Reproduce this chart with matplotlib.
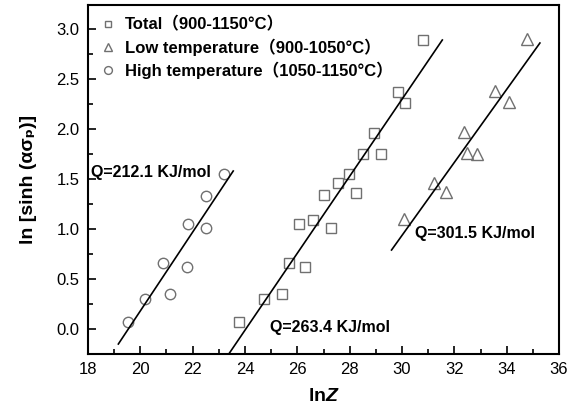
import matplotlib
matplotlib.use('Agg')
import matplotlib.pyplot as plt
from matplotlib.ticker import MultipleLocator

plt.rcParams['font.family'] = ['Liberation Sans', 'Noto Sans CJK SC', 'DejaVu Sans']
plt.rcParams['mathtext.fontset'] = 'custom'
plt.rcParams['mathtext.rm'] = 'Liberation Sans:bold'
plt.rcParams['mathtext.it'] = 'Liberation Sans:italic:bold'
plt.rcParams['mathtext.bf'] = 'Liberation Sans:bold'

# total (900-1150)
tot_x = [23.76, 24.73, 25.42, 25.67, 26.05, 26.29, 26.61, 27.27, 27.03, 27.57,
         27.99, 28.23, 28.52, 28.93, 29.18, 29.86, 30.13, 30.81]
tot_y = [0.07, 0.30, 0.35, 0.66, 1.05, 0.62, 1.09, 1.01, 1.34, 1.46,
         1.55, 1.36, 1.75, 1.96, 1.75, 2.37, 2.26, 2.89]
# low temperature (900-1050)
low_x = [30.07, 31.22, 31.68, 32.37, 32.49, 32.85, 33.55, 34.10, 34.79]
low_y = [1.10, 1.46, 1.37, 1.97, 1.76, 1.75, 2.38, 2.27, 2.90]
# high temperature (1050-1150)
high_x = [19.54, 20.18, 20.88, 21.13, 21.80, 21.83, 22.50, 22.50, 23.20]
high_y = [0.07, 0.30, 0.66, 0.35, 0.62, 1.05, 1.01, 1.33, 1.55]

# fitted lines (end points)
fit_high_x = [19.16, 23.55]
fit_high_y = [-0.15, 1.58]
fit_tot_x = [23.38, 31.54]
fit_tot_y = [-0.25, 2.89]
fit_low_x = [29.60, 35.27]
fit_low_y = [0.79, 2.86]

gray = '#707070'

fig = plt.figure(figsize=(5.74, 4.07), dpi=100)
ax = fig.add_axes([0.1533, 0.1302, 0.8206, 0.8575])

ax.plot(tot_x, tot_y, 's', ms=6.5, mfc='none', mec=gray, mew=1.0,
        label='Total（900-1150°C）')
ax.plot(low_x, low_y, '^', ms=8, mfc='none', mec=gray, mew=1.0,
        label='Low temperature（900-1050°C）')
ax.plot(high_x, high_y, 'o', ms=7.5, mfc='none', mec=gray, mew=1.0,
        label='High temperature（1050-1150°C）')

ax.plot(fit_high_x, fit_high_y, 'k-', lw=1.2)
ax.plot(fit_tot_x, fit_tot_y, 'k-', lw=1.2)
ax.plot(fit_low_x, fit_low_y, 'k-', lw=1.2)

ax.text(18.11, 1.57, 'Q=212.1 KJ/mol', fontsize=11.5, fontweight='bold', va='center')
ax.text(24.95, 0.02, 'Q=263.4 KJ/mol', fontsize=11.5, fontweight='bold', va='center')
ax.text(30.5, 0.96, 'Q=301.5 KJ/mol', fontsize=11.5, fontweight='bold', va='center')

ax.set_xlim(18, 36)
ax.set_ylim(-0.25, 3.24)
ax.xaxis.set_major_locator(MultipleLocator(2))
ax.xaxis.set_minor_locator(MultipleLocator(1))
ax.yaxis.set_major_locator(MultipleLocator(0.5))
ax.yaxis.set_minor_locator(MultipleLocator(0.25))
ax.tick_params(which='both', direction='in', top=False, right=False,
               labelsize=12, width=1.2, pad=6)
ax.tick_params(which='major', length=6)
ax.tick_params(which='minor', length=3.5)
for s in ax.spines.values():
    s.set_linewidth(1.5)

ax.set_xlabel(r'ln$\mathit{Z}$', fontsize=14, fontweight='bold', labelpad=8)
ax.set_ylabel('ln [sinh (ασₚ)]', fontsize=14, fontweight='bold', labelpad=14)

leg = ax.legend(loc='upper left', frameon=False,
                handletextpad=0.5, handlelength=1.0, labelspacing=0.35,
                borderaxespad=0.3, markerscale=0.75,
                prop={'weight': 'bold', 'size': 12})

fig.savefig('out.png', dpi=100)
